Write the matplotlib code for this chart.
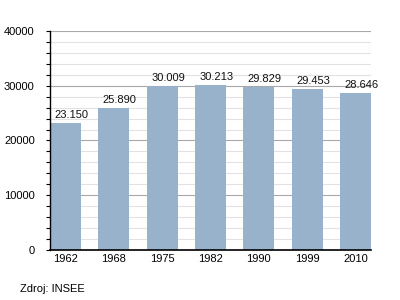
import matplotlib.pyplot as plt
import numpy as np
from matplotlib.ticker import MultipleLocator

years = ["1962", "1968", "1975", "1982", "1990", "1999", "2010"]
population = [23150, 25890, 30009, 30213, 29829, 29453, 28646]
value_labels = ["23.150", "25.890", "30.009", "30.213", "29.829", "29.453", "28.646"]

plt.rcParams["font.family"] = ["Liberation Sans", "DejaVu Sans"]

fig = plt.figure(figsize=(4, 3), dpi=100)
ax = fig.add_axes([0.125, 0.1667, 0.8025, 0.73])

x = np.arange(len(years))
ax.bar(x, population, width=0.64, color="#99b2cc", zorder=3)
for xi, v, lab in zip(x, population, value_labels):
    ax.text(xi + 0.12, v + 900, lab, ha="center", va="baseline", fontsize=8,
            color="#111111", zorder=4)

ax.set_xlim(-0.32, len(years) - 1 + 0.32)
ax.set_ylim(0, 40000)
ax.set_xticks(x)
ax.set_xticklabels(years, fontsize=8)
ax.yaxis.set_major_locator(MultipleLocator(10000))
ax.yaxis.set_minor_locator(MultipleLocator(2000))
ax.tick_params(axis="y", which="both", length=3, width=0.8, labelsize=8, pad=8)
ax.tick_params(axis="x", length=0, labelsize=8, pad=3)
ax.grid(axis="y", which="minor", color="#e2e2e2", linewidth=0.8, zorder=0)
ax.grid(axis="y", which="major", color="#a8a8a8", linewidth=0.8, zorder=1)

for side in ("top", "right"):
    ax.spines[side].set_visible(False)
ax.spines["left"].set_linewidth(1.0)
ax.spines["bottom"].set_linewidth(1.2)
ax.spines["left"].set_zorder(5)
ax.spines["bottom"].set_zorder(5)

fig.text(20 / 400, 1 - 289 / 300, "Zdroj: INSEE", fontsize=8, va="center", ha="left")

fig.savefig("out.png", dpi=100)
